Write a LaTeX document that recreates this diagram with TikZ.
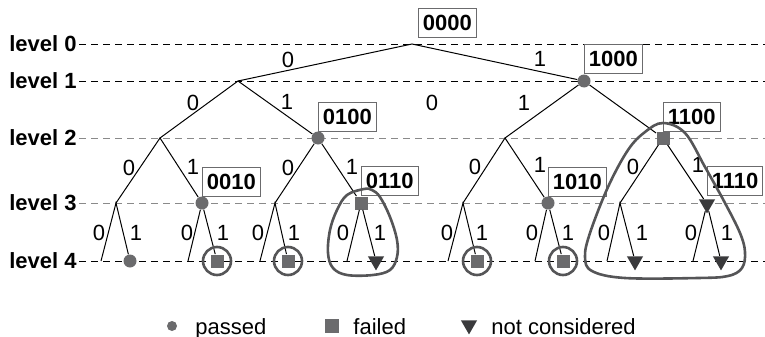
\documentclass[tikz,border=0pt]{standalone}
\usepackage{fontspec}
\setmainfont{Liberation Sans}
\usepackage{tikz}
\usetikzlibrary{positioning,shapes.geometric}

\definecolor{markgray}{HTML}{6B6B6D}
\definecolor{darkmark}{HTML}{3A3A3C}
\definecolor{ringgray}{HTML}{555557}
\definecolor{linegray}{HTML}{8A8A8A}

\tikzset{
	branch/.style={line width=0.5pt},
	levelline/.style={dashed, dash pattern=on 3.5pt off 2.5pt, line width=0.5pt},
	lvl/.style={font=\bfseries\fontsize{11}{13}\selectfont, inner xsep=1pt, inner ysep=0pt},
	bit/.style={font=\fontsize{11}{13}\selectfont, inner sep=0pt},
	legend/.style={font=\fontsize{11}{13}\selectfont, inner sep=0pt},
	codebox/.style={draw=markgray, line width=0.5pt, fill=white, font=\bfseries\fontsize{11}{13}\selectfont,
		inner xsep=2.2pt, inner ysep=0pt, minimum height=14.5pt},
	passed/.style={circle, fill=markgray, inner sep=0pt, minimum size=6.5pt},
	failed/.style={rectangle, fill=markgray, inner sep=0pt, minimum size=6.5pt},
	notcons/.style={regular polygon, regular polygon sides=3, shape border rotate=180,
		fill=darkmark, inner sep=0pt, minimum size=9.4pt},
	ring/.style={circle, draw=ringgray, line width=1.3pt, inner sep=0pt, minimum size=14pt},
	loopline/.style={draw=ringgray, line width=1.3pt}
}

\begin{document}
\begin{tikzpicture}[x=0.5pt, y=-0.5pt]
	
	\useasboundingbox (0,0) rectangle (765,337);
	
	% Levels
	\coordinate (rim) at (765,0);
	\node[lvl, anchor=east] (lv0) at (79,44) {level 0};
	\node[lvl, anchor=east] (lv1) at (79,81) {level 1};
	\node[lvl, anchor=east] (lv2) at (79,138) {level 2};
	\node[lvl, anchor=east] (lv3) at (79,203) {level 3};
	\node[lvl, anchor=east] (lv4) at (79,261) {level 4};
	\draw[levelline] (lv0.east) -- (lv0.east -| rim);
	\draw[levelline] (lv1.east) -- (lv1.east -| rim);
	\draw[levelline, linegray] (lv2.east) -- (lv2.east -| rim);
	\draw[levelline, linegray] (lv3.east) -- (lv3.east -| rim);
	\draw[levelline] (lv4.east) -- (lv4.east -| rim);
	
	% Tree points, levels 0 to 2
	\coordinate (v) at (412,44);
	\coordinate (v0) at (238,81);
	\node[passed] (v1) at (584,81) {};
	\coordinate (v00) at (160,138);
	\node[passed] (v01) at (318,138) {};
	\coordinate (v10) at (505,138);
	\node[failed] (v11) at (663,138) {};
	
	% Level 3
	\coordinate (v000) at (116,203);
	\node[passed] (v001) at (202,203) {};
	\coordinate (v010) at (275,203);
	\node[failed] (v011) at (361,203) {};
	\coordinate (v100) at (463,203);
	\node[passed] (v101) at (548,203) {};
	\coordinate (v110) at (620,203);
	\node[notcons] (v111) at (707,204) {};
	
	% Level 4
	\coordinate (v0000) at (101,261);
	\node[passed] (v0001) at (130,261) {};
	\coordinate (v0010) at (188,261);
	\node[failed] (v0011) at (217,261) {};
	\coordinate (v0100) at (260,261);
	\node[failed] (v0101) at (288,261) {};
	\coordinate (v0110) at (347,261);
	\node[notcons] (v0111) at (376,261) {};
	\coordinate (v1000) at (448,261);
	\node[failed] (v1001) at (477,261) {};
	\coordinate (v1010) at (535,261);
	\node[failed] (v1011) at (563,261) {};
	\coordinate (v1100) at (607,261);
	\node[notcons] (v1101) at (635,261) {};
	\coordinate (v1110) at (693,261);
	\node[notcons] (v1111) at (721,261) {};
	
	% Branches
	\draw[branch] (v0) -- (v) -- (v1);
	\draw[branch] (v00) -- (v0) -- (v01);
	\draw[branch] (v10) -- (v1) -- (v11);
	\draw[branch] (v000) -- (v00) -- (v001);
	\draw[branch] (v010) -- (v01) -- (v011);
	\draw[branch] (v100) -- (v10) -- (v101);
	\draw[branch] (v110) -- (v11) -- (v111);
	\draw[branch] (v0000) -- (v000) -- (v0001);
	\draw[branch] (v0010) -- (v001) -- (v0011);
	\draw[branch] (v0100) -- (v010) -- (v0101);
	\draw[branch] (v0110) -- (v011) -- (v0111);
	\draw[branch] (v1000) -- (v100) -- (v1001);
	\draw[branch] (v1010) -- (v101) -- (v1011);
	\draw[branch] (v1100) -- (v110) -- (v1101);
	\draw[branch] (v1110) -- (v111) -- (v1111);
	
	% Bit labels
	\node[bit] (b0) at (288,60) {0};
	\node[bit] (b1) at (540,59) {1};
	\node[bit] (b00) at (193,103) {0};
	\node[bit] (b01) at (287,102) {1};
	\node[bit] (b10) at (432,103) {0};
	\node[bit] (b11) at (524,103) {1};
	\node[bit] (b000) at (129,168) {0};
	\node[bit] (b001) at (193,167) {1};
	\node[bit] (b010) at (288,168) {0};
	\node[bit] (b011) at (352,167) {1};
	\node[bit] (b100) at (475,167) {0};
	\node[bit] (b101) at (540,165) {1};
	\node[bit] (b110) at (633,167) {0};
	\node[bit] (b111) at (698,165) {1};
	\node[bit] (b0000) at (99,233) {0};
	\node[bit] (b0001) at (136,233) {1};
	\node[bit] (b0010) at (187,233) {0};
	\node[bit] (b0011) at (223,233) {1};
	\node[bit] (b0100) at (258,233) {0};
	\node[bit] (b0101) at (294,233) {1};
	\node[bit] (b0110) at (343,233) {0};
	\node[bit] (b0111) at (380,233) {1};
	\node[bit] (b1000) at (447,233) {0};
	\node[bit] (b1001) at (482,233) {1};
	\node[bit] (b1010) at (532,233) {0};
	\node[bit] (b1011) at (568,233) {1};
	\node[bit] (b1100) at (604,233) {0};
	\node[bit] (b1101) at (642,233) {1};
	\node[bit] (b1110) at (691,233) {0};
	\node[bit] (b1111) at (727,233) {1};
	
	% Codes
	\node[codebox, above right=3pt and 3pt of v.center] (c0000) {0000};
	\node[codebox, above right=3.5pt and 0pt of v1.center] (c1000) {1000};
	\node[codebox, above right=3pt and 0pt of v01.center] (c0100) {0100};
	\node[codebox, above right=3pt and 0pt of v11.center] (c1100) {1100};
	\node[codebox, above right=3pt and 0pt of v001.center] (c0010) {0010};
	\node[codebox, above right=3.5pt and 0pt of v011.center] (c0110) {0110};
	\node[codebox, above right=3pt and 0pt of v101.center] (c1010) {1010};
	\node[codebox, above right=4pt and 0pt of v111.center] (c1110) {1110};
	
	% Failed leaves
	\node[ring] (r0011) at (v0011) {};
	\node[ring] (r0101) at (v0101) {};
	\node[ring] (r1001) at (v1001) {};
	\node[ring] (r1011) at (v1011) {};
	
	% Subtrees
	\draw[loopline] plot[smooth cycle, tension=0.6] coordinates {(364,189) (347,195) (337,210) (330,230) (328,253)
		(333,268) (347,275) (373,275) (390,270) (397,257) (397,240) (390,217) (380,197) (372,190)};
	\draw[loopline] plot[smooth cycle, tension=0.6] coordinates {(663,123) (645,132) (628,150) (608,187) (590,233)
		(585,257) (592,271) (625,278) (698,278) (728,276) (742,268) (745,252) (740,233) (725,203) (705,167)
		(685,133)};
	
	% Legend
	\node[passed, minimum size=5pt] (kpass) at (172,326) {};
	\node[legend, anchor=base west] (tpass) at (195,334) {passed};
	\node[failed, minimum size=7pt] (kfail) at (332,326) {};
	\node[legend, anchor=base west] (tfail) at (353,334) {failed};
	\node[notcons] (knot) at (469,325) {};
	\node[legend, anchor=base west] (tnot) at (491,334) {not considered};
	
\end{tikzpicture}
\end{document}
